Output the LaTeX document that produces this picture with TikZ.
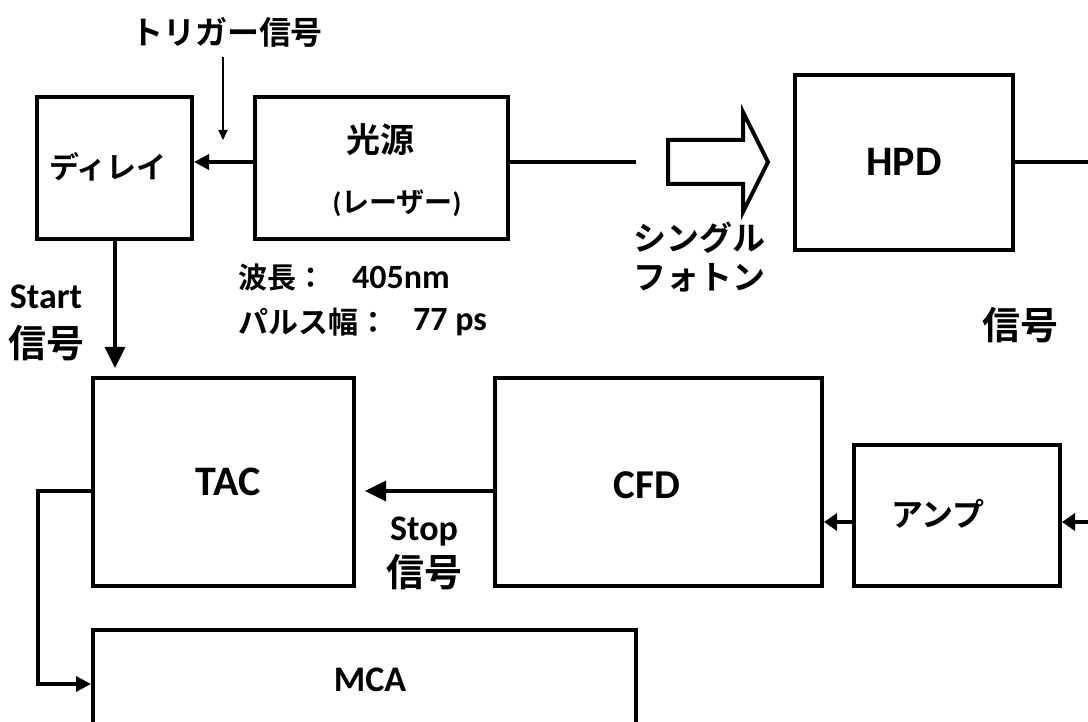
\documentclass[tikz,border=0pt]{standalone}
\usepackage{fontspec}
\setmainfont{Carlito}
\newfontfamily\jp{Noto Sans CJK JP}[BoldFont={* Bold}]
\usetikzlibrary{arrows.meta}
\newcommand\fsz[1]{\fontsize{#1}{#1}\selectfont}
\begin{document}
\begin{tikzpicture}[x=1pt,y=-1pt,
  box/.style={draw,line width=4pt,inner sep=0pt,fill=white},
  lbl/.style={inner sep=0pt,font=\bfseries},
  conn/.style={line width=3.5pt},
  arr/.style={line width=3.5pt,-{Triangle[length=15pt,width=15pt]}},
  bigarr/.style={line width=3.5pt,-{Triangle[length=21pt,width=20pt]}},
  thinarr/.style={line width=2pt,-{Triangle[length=10pt,width=9pt]}}]
\useasboundingbox (0,0) rectangle (1088,722);
% boxes
\node[box,minimum width=155pt,minimum height=142pt] (delay) at (114.5,168) {};
\node[box,minimum width=253pt,minimum height=142pt] (src) at (381.5,168) {};
\node[box,minimum width=218pt,minimum height=175pt] (hpd) at (904,162.5) {};
\node[box,minimum width=261pt,minimum height=208pt] (tac) at (223.5,482) {};
\node[box,minimum width=327pt,minimum height=208pt] (cfd) at (658.5,482) {};
\node[box,minimum width=206pt,minimum height=141pt] (amp) at (957,515.5) {};
\node[box,minimum width=543pt,minimum height=110pt] (mca) at (364.5,685) {};
% labels inside boxes
\node[lbl] (tdelay) at (108,167) {\jp\fsz{30}ディレイ};
\node[lbl] (tsrc1) at (380,140) {\jp\fsz{34}光源};
\node[lbl] (tsrc2) at (397,203) {\fsz{28}(\jp レーザー\rmfamily)};
\node[lbl] (thpd) at (904,162) {\fsz{42}HPD};
\node[lbl] (ttac) at (228,482) {\fsz{42}TAC};
\node[lbl] (tcfd) at (647,485) {\fsz{41}CFD};
\node[lbl] (tamp) at (938,514) {\jp\fsz{32}アンプ};
\node[lbl] (tmca) at (370,680) {\fsz{36}MCA};
% free labels
\node[lbl] (ttrig) at (227,32) {\jp\fsz{32}トリガー信号};
\node[lbl,anchor=west] (twl1) at (238,277) {\jp\fsz{29}波長：};
\node[lbl,anchor=west] (twl2) at (352,277) {\fsz{34}405nm};
\node[lbl,anchor=west] (tpw1) at (238,322) {\jp\fsz{30}パルス幅：};
\node[lbl,anchor=west] (tpw2) at (413,322) {\fsz{34}77 ps};
\node[lbl] (tstart) at (46,297) {\fsz{36}Start};
\node[lbl] (tstartsig) at (47,343) {\jp\fsz{38}信号};
\node[lbl,anchor=west] (tsp1) at (633,238) {\jp\fsz{33}シングル};
\node[lbl,anchor=west] (tsp2) at (633,278) {\jp\fsz{33}フォトン};
\node[lbl] (thpdsig) at (1020,325) {\jp\fsz{38}信号};
\node[lbl] (tstop) at (424,532) {\fsz{36}Stop};
\node[lbl] (tstopsig) at (424,572) {\jp\fsz{38}信号};
% coordinates
\coordinate (y162) at (0,162);
\coordinate (trigtop) at (223,57);
\coordinate (trigend) at (223,140);
\coordinate (srcend) at (636,162);
\coordinate (hpdend) at (1088,162);
\coordinate (starttip) at (115,368);
\coordinate (stoptip) at (365,491);
\coordinate (ampin) at (1088,522);
\coordinate (y491) at (0,491);
\coordinate (y522) at (0,522);
\coordinate (fbx) at (38,684);
% connectors
\draw[thinarr] (trigtop) -- (trigend);
\draw[arr] (src.west |- y162) -- (delay.east |- y162);
\draw[conn] (src.east |- y162) -- (srcend);
\draw[conn] (hpd.east |- y162) -- (hpdend);
\draw[bigarr] (delay.south -| starttip) -- (starttip);
\draw[bigarr] (cfd.west |- y491) -- (stoptip);
\draw[arr,-{Triangle[length=13pt,width=17pt]}] (amp.west |- y522) -- (cfd.east |- y522);
\draw[arr,-{Triangle[length=13pt,width=17pt]}] (ampin) -- (amp.east |- y522);
\draw[arr] (tac.west |- y491) -| (fbx) -- (mca.west |- fbx);
% block arrow
\draw[line width=4pt,line join=miter] (668,140) -- (743,140) -- (743,112) -- (768,162) -- (743,212) -- (743,184) -- (668,184) -- cycle;
\end{tikzpicture}
\end{document}
